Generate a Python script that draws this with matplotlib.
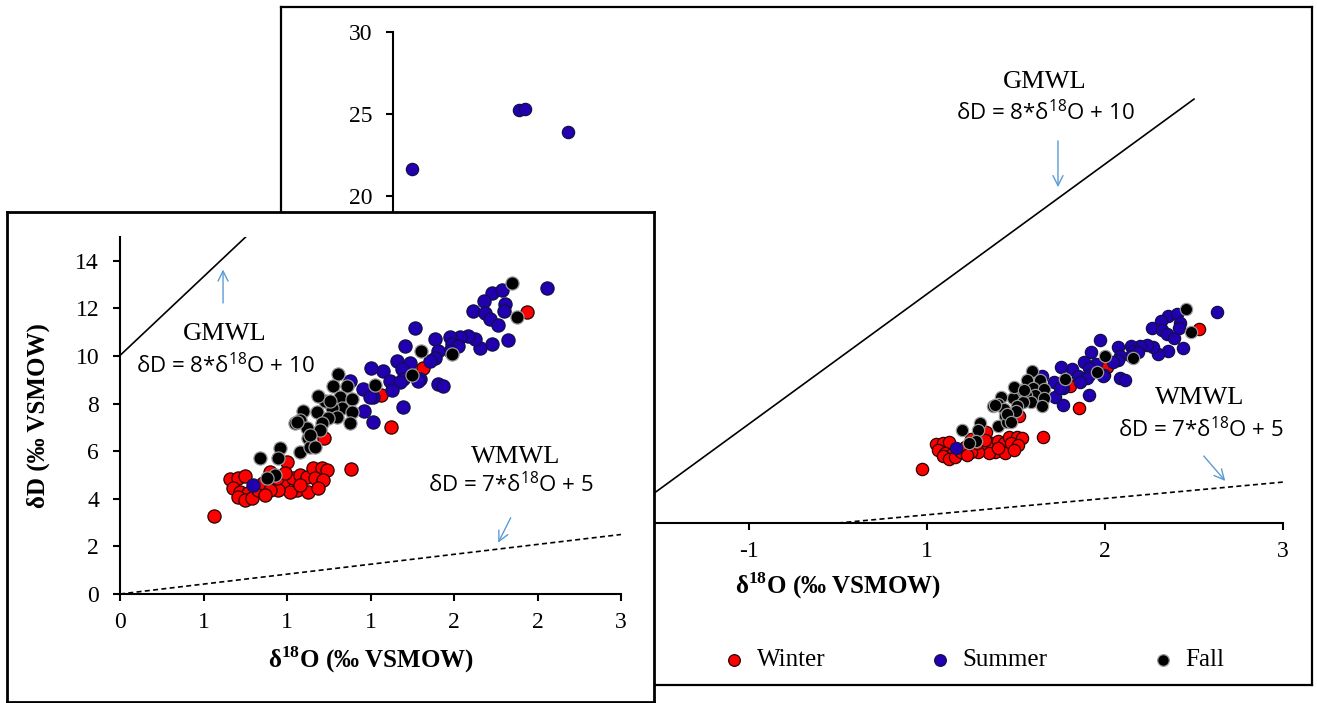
import matplotlib.pyplot as plt

plt.rcParams['font.family'] = ['Liberation Serif', 'DejaVu Serif']
plt.rcParams['mathtext.fontset'] = 'custom'
plt.rcParams['mathtext.rm'] = 'Liberation Serif'
plt.rcParams['mathtext.bf'] = 'Liberation Serif:bold'
plt.rcParams['mathtext.sf'] = 'Open Sans'

# delta 18O / delta D values
winter_x = [0.563, 0.659, 0.707, 0.749, 0.677, 0.719, 0.766, 0.707, 0.749, 0.790,
            0.826, 0.856, 0.898, 1.000, 0.976, 1.036, 1.078, 1.120, 1.060, 1.018,
            0.946, 0.898, 1.126, 1.156, 1.210, 1.240, 1.168, 1.216, 0.940, 0.988,
            1.078, 1.186, 0.868, 1.222, 1.383, 1.623, 1.563, 1.814, 2.437]
winter_y = [3.27, 4.82, 4.86, 4.95, 4.44, 4.27, 4.23, 4.07, 3.94, 4.02,
            4.36, 4.65, 5.11, 5.53, 4.69, 4.86, 4.99, 4.90, 4.36, 4.27,
            4.36, 4.36, 4.27, 5.28, 5.28, 5.20, 4.86, 4.78, 4.86, 5.07,
            4.57, 4.44, 4.15, 6.54, 5.24, 7.00, 8.38, 9.51, 11.86]

summer_x = [2.557, 2.228, 2.287, 2.180, 2.305, 2.114, 2.186, 2.216, 2.263, 2.299,
            1.766, 2.323, 2.228, 2.156, 2.126, 2.084, 2.036, 1.976, 1.886, 1.988,
            2.024, 1.976, 1.904, 1.886, 1.707, 1.856, 1.659, 1.737, 1.796, 1.689,
            1.575, 1.617, 1.904, 1.934, 1.695, 1.503, 1.377, 1.455, 1.677, 1.515,
            1.629, 1.461, 1.695, 1.515, 1.497, 0.796, 1.784,
            -2.870, -2.150, -2.109, -1.819]
summer_y = [12.87, 12.66, 12.78, 12.32, 12.20, 11.90, 11.82, 11.57, 11.32, 11.90,
            11.19, 10.69, 10.52, 10.35, 10.73, 10.86, 10.81, 10.81, 10.73, 10.52,
            10.44, 10.23, 10.23, 9.93, 10.44, 9.81, 9.81, 9.72, 9.05, 9.47,
            9.39, 8.97, 8.84, 8.72, 9.05, 9.51, 8.97, 8.63, 8.89, 8.26,
            8.59, 7.71, 7.84, 7.21, 8.26, 4.57, 8.97,
            21.6, 25.21, 25.28, 23.87]

fall_x = [2.347, 2.377, 1.802, 1.749, 1.527, 1.988, 1.305, 1.359, 1.275, 1.317,
          1.389, 1.329, 1.389, 1.269, 1.228, 1.180, 1.299, 1.246, 1.210, 1.096,
          1.078, 1.120, 1.198, 1.377, 1.048, 1.126, 1.078, 1.138, 0.958, 0.838,
          0.946, 1.186, 1.257, 1.060, 1.138, 1.168, 0.928, 0.880]
fall_y = [13.08, 11.65, 10.23, 9.22, 8.80, 10.10, 9.26, 8.76, 8.76, 8.26,
          8.21, 7.80, 7.63, 7.80, 8.13, 7.63, 7.42, 7.38, 7.17, 7.71,
          7.29, 6.96, 6.87, 7.17, 7.17, 6.54, 5.95, 6.16, 6.12, 5.70,
          5.70, 8.34, 8.13, 7.21, 6.66, 6.16, 4.99, 4.86]

# meteoric water lines as drawn
gmwl_x = [-1.515, 2.40]
gmwl_y = [0, 25.9]
wmwl_x = [0, 3]
wmwl_y = [0, 2.5]

back_xticks = [-3, -1.8, -0.6, 0.6, 1.8, 3]
back_xlabels = ['-3', '-2', '-1', '1', '2', '3']
back_yticks = [0, 5, 10, 15, 20, 25, 30]
inset_xticks = [0, 0.5, 1, 1.5, 2, 2.5, 3]
inset_xlabels = ['0', '1', '1', '1', '2', '2', '3']
inset_yticks = [0, 2, 4, 6, 8, 10, 12, 14]

W, H = 1317, 703
fig = plt.figure(figsize=(W / 100, H / 100), dpi=100)


def box(x0, y0, x1, y1):
    return [x0 / W, 1 - y1 / H, (x1 - x0) / W, (y1 - y0) / H]


def frame(rect, lw):
    a = fig.add_axes(rect)
    a.set_xticks([])
    a.set_yticks([])
    for s in a.spines.values():
        s.set_linewidth(lw)
        s.set_color('black')
    return a


styles = [('Winter', '#ff0000', '#2a0000'),
          ('Summer', '#2200b0', '#10104a'),
          ('Fall', '#000000', '#9a9a9a')]
series = [(winter_x, winter_y), (summer_x, summer_y), (fall_x, fall_y)]
arrow_col = '#5b9bd5'
eq_font = 'Open Sans'
TICK = 17
LAB = 18
NAME = 19
EQ = 16


def style_axes(ax):
    for s in ['top', 'right']:
        ax.spines[s].set_visible(False)
    for s in ['left', 'bottom']:
        ax.spines[s].set_linewidth(1.5)
    ax.tick_params(direction='out', length=5, width=1.5, labelsize=TICK, pad=8)
    ax.patch.set_alpha(0)


# ---- back panel ----
frame(box(281, 7, 1312, 685), 1.6)
ax = fig.add_axes(box(393, 32, 1283, 523))
style_axes(ax)
ax.set_xlim(-3, 3)
ax.set_ylim(0, 30)
ax.set_xticks(back_xticks, back_xlabels)
ax.set_yticks(back_yticks)
ax.tick_params(axis='y', pad=10)
for (name, fc, ec), (xs, ys) in zip(styles, series):
    ax.scatter(xs, ys, s=78, c=fc, edgecolors=ec, linewidths=0.9, label=name, zorder=3)
ax.plot(gmwl_x, gmwl_y, color='black', lw=1.2)
ax.plot(wmwl_x, wmwl_y, color='black', lw=1.2, ls=(0, (3, 2)))
ax.set_xlabel(r'δ$^{\mathbf{18}}$O (‰ VSMOW)', fontsize=LAB, fontweight='bold', labelpad=6)
ax.text(1.396, 26.94, 'GMWL', fontsize=NAME, ha='center', va='center')
ax.text(1.396, 25.05, r'δD = 8*δ$^{\mathsf{18}}$O + 10', family=eq_font, fontsize=EQ,
        ha='center', va='center')
ax.annotate('', xy=(1.483, 20.35), xytext=(1.483, 23.52),
            arrowprops=dict(arrowstyle='->', color=arrow_col, lw=1, mutation_scale=18))
ax.text(2.441, 7.64, 'WMWL', fontsize=NAME, ha='center', va='center')
ax.text(2.447, 5.68, r'δD = 7*δ$^{\mathsf{18}}$O + 5', family=eq_font, fontsize=EQ,
        ha='center', va='center')
ax.annotate('', xy=(2.623, 2.44), xytext=(2.454, 4.22),
            arrowprops=dict(arrowstyle='->', color=arrow_col, lw=1, mutation_scale=18))
leg = ax.legend(loc='center', bbox_to_anchor=(0.653, -0.279), ncol=3, frameon=False,
                fontsize=LAB, handlelength=0.8, handletextpad=0.5, columnspacing=4.2,
                markerscale=0.95)

# ---- inset panel ----
fr = frame(box(7, 212, 654, 702), 2.0)
fr.set_facecolor('white')
ins = fig.add_axes(box(120, 237, 621, 594))
style_axes(ins)
ins.set_xlim(0, 3)
ins.set_ylim(0, 15)
ins.set_xticks(inset_xticks, inset_xlabels)
ins.set_yticks(inset_yticks)
ins.tick_params(axis='y', pad=10)
for (name, fc, ec), (xs, ys) in zip(styles, series):
    ins.scatter(xs, ys, s=90, c=fc, edgecolors=ec, linewidths=0.9, zorder=3)
ins.plot(gmwl_x, gmwl_y, color='black', lw=1.2)
ins.plot(wmwl_x, wmwl_y, color='black', lw=1.2, ls=(0, (3, 2)))
ins.set_xlabel(r'δ$^{\mathbf{18}}$O (‰ VSMOW)', fontsize=LAB, fontweight='bold', labelpad=8)
ins.set_ylabel(r'δD (‰ VSMOW)', fontsize=LAB, fontweight='bold', labelpad=18)
ins.text(0.629, 10.94, 'GMWL', fontsize=NAME, ha='center', va='center')
ins.text(0.629, 9.6, r'δD = 8*δ$^{\mathsf{18}}$O + 10', family=eq_font, fontsize=EQ,
         ha='center', va='center')
ins.annotate('', xy=(0.617, 13.75), xytext=(0.617, 12.11),
             arrowprops=dict(arrowstyle='->', color=arrow_col, lw=1, mutation_scale=18))
ins.text(2.371, 5.75, 'WMWL', fontsize=NAME, ha='center', va='center')
ins.text(2.341, 4.6, r'δD = 7*δ$^{\mathsf{18}}$O + 5', family=eq_font, fontsize=EQ,
         ha='center', va='center')
ins.annotate('', xy=(2.257, 2.05), xytext=(2.347, 3.31),
             arrowprops=dict(arrowstyle='->', color=arrow_col, lw=1, mutation_scale=18))

fig.savefig('out.png', dpi=100)
